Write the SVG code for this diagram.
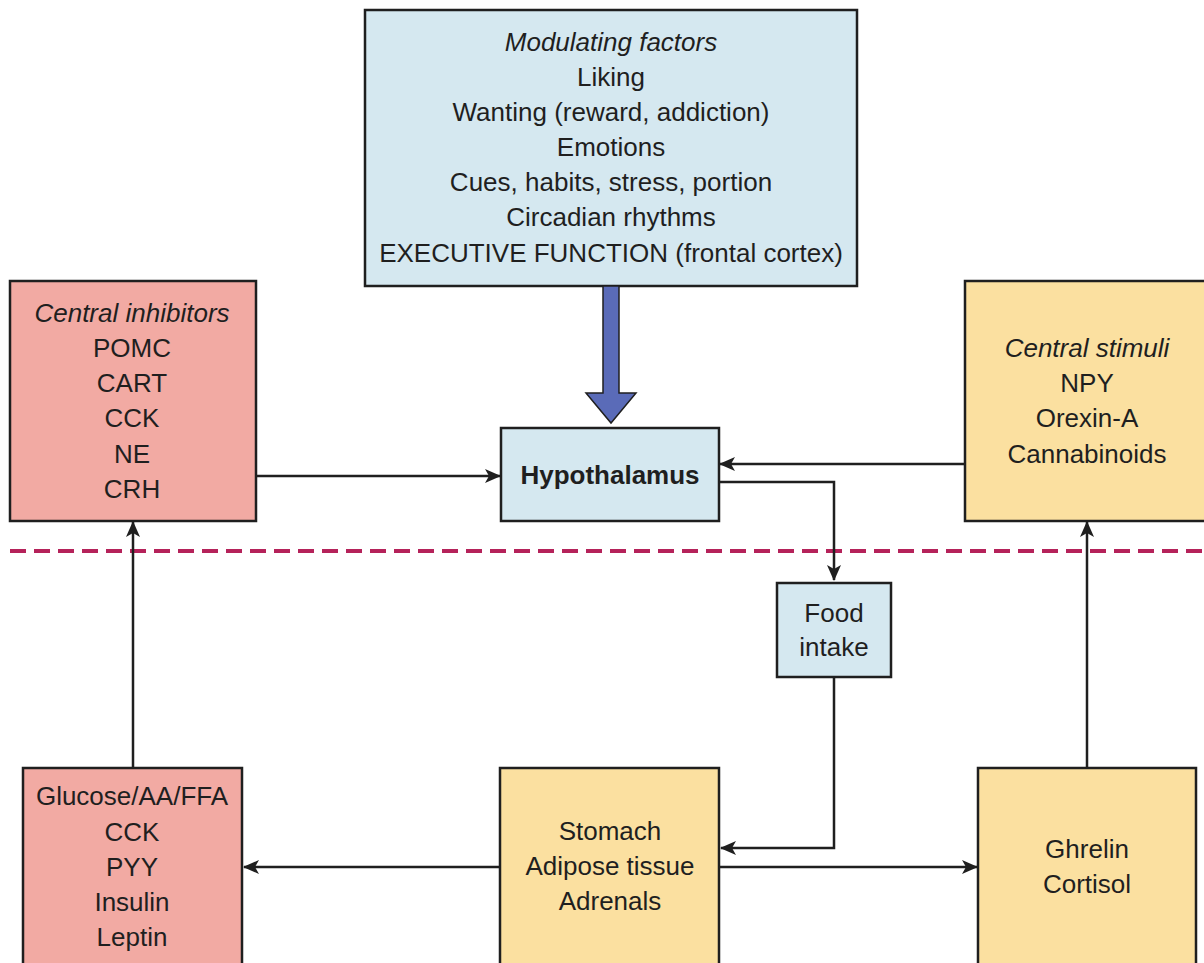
<svg xmlns="http://www.w3.org/2000/svg" width="1204" height="963" viewBox="0 0 1204 963">
  <style>
    .box { stroke: #1f1f1f; stroke-width: 2.5; }
    .blue { fill: #d5e8f0; }
    .pink { fill: #f2aaa3; }
    .yellow { fill: #fbe0a0; }
    text { font-family: "Liberation Sans", Arial, sans-serif; font-size: 26px; fill: #1f1f1f; text-anchor: middle; }
    .it { font-style: italic; }
    .bold { font-weight: bold; }
    .link { fill: none; stroke: #1f1f1f; stroke-width: 2.5; }
  </style>
  <defs>
    <marker id="head" markerWidth="16" markerHeight="14" refX="15" refY="7" orient="auto" markerUnits="userSpaceOnUse">
      <path d="M0,0 L16,7 L0,14 L4,7 Z" fill="#1f1f1f"/>
    </marker>
  </defs>

  <rect width="1204" height="963" fill="#ffffff"/>

  <!-- boundary between central and peripheral signals -->
  <line x1="10" y1="551" x2="1204" y2="551" stroke="#b5225a" stroke-width="4" stroke-dasharray="16 8"/>

  <g id="modulating">
    <rect class="box blue" x="365" y="10" width="492" height="276"/>
    <text class="it" x="611" y="51">Modulating factors</text>
    <text x="611" y="86">Liking</text>
    <text x="611" y="121">Wanting (reward, addiction)</text>
    <text x="611" y="156">Emotions</text>
    <text x="611" y="191">Cues, habits, stress, portion</text>
    <text x="611" y="226">Circadian rhythms</text>
    <text x="611" y="262">EXECUTIVE FUNCTION (frontal cortex)</text>
  </g>

  <g id="hypothalamus">
    <rect class="box blue" x="501" y="428" width="218" height="93"/>
    <text class="bold" x="610" y="484">Hypothalamus</text>
  </g>

  <g id="central-inhibitors">
    <rect class="box pink" x="10" y="281" width="246" height="240"/>
    <text class="it" x="132" y="322">Central inhibitors</text>
    <text x="132" y="357">POMC</text>
    <text x="132" y="392">CART</text>
    <text x="132" y="427">CCK</text>
    <text x="132" y="463">NE</text>
    <text x="132" y="498">CRH</text>
  </g>

  <g id="central-stimuli">
    <rect class="box yellow" x="965" y="281" width="250" height="240"/>
    <text class="it" x="1087" y="357">Central stimuli</text>
    <text x="1087" y="392">NPY</text>
    <text x="1087" y="427">Orexin-A</text>
    <text x="1087" y="463">Cannabinoids</text>
  </g>

  <g id="food-intake">
    <rect class="box blue" x="777" y="583" width="114" height="94"/>
    <text x="834" y="622">Food</text>
    <text x="834" y="656">intake</text>
  </g>

  <g id="satiety-signals">
    <rect class="box pink" x="23" y="768" width="219" height="210"/>
    <text x="132" y="805">Glucose/AA/FFA</text>
    <text x="132" y="841">CCK</text>
    <text x="132" y="876">PYY</text>
    <text x="132" y="911">Insulin</text>
    <text x="132" y="946">Leptin</text>
  </g>

  <g id="peripheral-organs">
    <rect class="box yellow" x="500" y="768" width="219" height="210"/>
    <text x="610" y="840">Stomach</text>
    <text x="610" y="875">Adipose tissue</text>
    <text x="610" y="910">Adrenals</text>
  </g>

  <g id="hunger-signals">
    <rect class="box yellow" x="978" y="768" width="218" height="210"/>
    <text x="1087" y="858">Ghrelin</text>
    <text x="1087" y="893">Cortisol</text>
  </g>

  <g id="connectors">
    <!-- broad arrow from modulating factors -->
    <path d="M603,286 L619,286 L619,393 L636,393 L611,423 L586,393 L603,393 Z" fill="#5a6bb8" stroke="#1f1f1f" stroke-width="1.5"/>
    <line class="link" x1="256" y1="476" x2="500" y2="476" marker-end="url(#head)"/>
    <line class="link" x1="965" y1="464" x2="720" y2="464" marker-end="url(#head)"/>
    <polyline class="link" points="719,482 834,482 834,580" marker-end="url(#head)"/>
    <polyline class="link" points="834,677 834,848 721,848" marker-end="url(#head)"/>
    <line class="link" x1="500" y1="867" x2="244" y2="867" marker-end="url(#head)"/>
    <line class="link" x1="719" y1="867" x2="977" y2="867" marker-end="url(#head)"/>
    <line class="link" x1="133" y1="768" x2="133" y2="522" marker-end="url(#head)"/>
    <line class="link" x1="1087" y1="768" x2="1087" y2="522" marker-end="url(#head)"/>
  </g>
</svg>
